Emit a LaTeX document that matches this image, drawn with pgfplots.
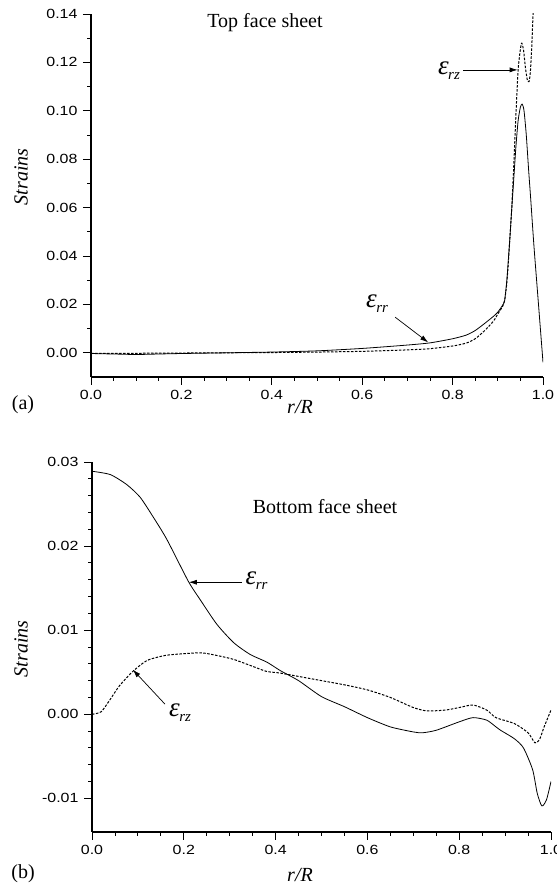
\documentclass[border=0pt]{standalone}
\usepackage{fontspec}
\setmainfont{Liberation Serif}
\newfontfamily\tickfamily[FakeStretch=1.2]{Liberation Sans}
\usepackage{pgfplots}
\pgfplotsset{compat=1.18}
\usetikzlibrary{arrows.meta}
\newcommand{\tickfont}{\tickfamily\fontsize{13.3bp}{15bp}\selectfont}
\newcommand{\txtfont}{\fontsize{20bp}{22bp}\selectfont}
\newcommand{\eps}[1]{{\fontsize{27bp}{27bp}\selectfont\itshape ε}\kern-0.5bp\raisebox{-5bp}{\fontsize{15bp}{15bp}\selectfont\itshape #1}}

\pgfplotstableread{
x y
0 -0.0003
0.05 -0.0005
0.1 -0.0007
0.15 -0.0005
0.2 -0.0003
0.3 0.0000
0.4 0.0003
0.5 0.0008
0.6 0.0018
0.7 0.0032
0.75 0.0041
0.8 0.0058
0.83 0.0073
0.85 0.0092
0.87 0.0120
0.89 0.0150
0.90 0.0168
0.91 0.0195
0.915 0.0215
0.92 0.030
0.925 0.043
0.93 0.057
0.935 0.071
0.94 0.085
0.945 0.096
0.95 0.1015
0.954 0.1028
0.958 0.100
0.963 0.090
0.968 0.076
0.973 0.063
0.98 0.044
0.99 0.020
1.0 -0.004
}\toprr

\pgfplotstableread{
x y
0 -0.0002
0.1 -0.0002
0.2 -0.0001
0.3 0.0000
0.4 0.0001
0.5 0.0003
0.6 0.0006
0.7 0.0012
0.75 0.0017
0.8 0.0028
0.83 0.0040
0.85 0.0058
0.87 0.0090
0.89 0.0130
0.90 0.0160
0.91 0.0190
0.915 0.0215
0.92 0.029
0.925 0.042
0.93 0.057
0.935 0.076
0.94 0.098
0.945 0.117
0.95 0.1255
0.953 0.128
0.957 0.125
0.961 0.118
0.965 0.113
0.969 0.112
0.972 0.116
0.975 0.126
0.978 0.140
0.981 0.152
}\toprz

\pgfplotstableread{
x y
0 0.0289
0.04 0.0285
0.076 0.0273
0.105 0.0258
0.134 0.0234
0.163 0.0208
0.21 0.0158
0.236 0.0136
0.272 0.0107
0.309 0.0085
0.345 0.0071
0.381 0.0062
0.41 0.0052
0.45 0.0040
0.5 0.0021
0.55 0.0009
0.6 -0.0004
0.65 -0.0015
0.7 -0.0021
0.72 -0.0022
0.75 -0.0019
0.8 -0.0009
0.83 -0.0004
0.86 -0.0007
0.88 -0.0015
0.89 -0.0019
0.92 -0.0029
0.94 -0.0040
0.96 -0.0066
0.97 -0.0094
0.98 -0.0109
0.99 -0.0102
1.0 -0.0080
}\botrr

\pgfplotstableread{
x y
0 0.0000
0.02 0.0003
0.04 0.0018
0.06 0.0034
0.089 0.0051
0.12 0.0064
0.16 0.0070
0.2 0.0072
0.24 0.0073
0.28 0.0069
0.31 0.0065
0.35 0.0057
0.38 0.0051
0.41 0.0049
0.45 0.0045
0.5 0.0040
0.55 0.0035
0.6 0.0029
0.65 0.0020
0.7 0.0008
0.73 0.0004
0.77 0.0005
0.8 0.0008
0.83 0.0011
0.86 0.0005
0.88 -0.0004
0.92 -0.0011
0.95 -0.0022
0.965 -0.0034
0.975 -0.0030
0.985 -0.0015
1.0 0.0005
}\botrz

\pgfplotsset{
  mystyle/.style={
    scale only axis,
    axis lines=left,
    axis line style={-, line width=1.1bp},
    tick style={line width=0.9bp, black},
    tick align=outside,
    major tick length=8bp,
    minor tick length=4bp,
    xmin=0, xmax=1,
    xtick={0,0.2,0.4,0.6,0.8,1},
    minor x tick num=3,
    scaled x ticks=false, scaled y ticks=false,
    ticklabel style={font=\tickfont},
    /pgf/number format/assume math mode=true,
    xticklabel style={yshift=-2bp, /pgf/number format/.cd, fixed, fixed zerofill, precision=1},
    yticklabel style={xshift=-2bp, /pgf/number format/.cd, fixed, fixed zerofill, precision=2},
    every axis plot/.append style={black, line join=round},
  },
  solidl/.style={line width=0.8bp, smooth, tension=0.4},
  dashl/.style={line width=1bp, dash pattern=on 2.5bp off 1.5bp, smooth, tension=0.4},
}

\begin{document}
\begin{tikzpicture}[x=1bp,y=1bp]
\useasboundingbox (0,0) rectangle (557,886);

% top panel
\begin{axis}[mystyle,
  at={(91bp,509bp)}, anchor=south west,
  width=452bp, height=363bp,
  ymin=-0.01, ymax=0.14,
  ytick={0,0.02,0.04,0.06,0.08,0.10,0.12,0.14},
  minor y tick num=1]
\addplot[solidl] table[x=x,y=y] {\toprr};
\addplot[dashl] table[x=x,y=y] {\toprz};
\draw[-{Latex[length=8bp,width=5bp]}, line width=0.7bp] (axis cs:0.823,0.1169) -- (axis cs:0.944,0.1169);
\node at (axis cs:0.792,0.1165) {\eps{rz}};
\draw[-{Latex[length=8bp,width=5bp]}, line width=0.7bp] (axis cs:0.673,0.0147) -- (axis cs:0.746,0.0043);
\node at (axis cs:0.633,0.0205) {\eps{rr}};
\end{axis}

% bottom panel
\begin{axis}[mystyle,
  at={(92bp,54bp)}, anchor=south west,
  width=459bp, height=370bp,
  ymin=-0.014, ymax=0.03,
  ytick={-0.01,0,0.01,0.02,0.03},
  minor y tick num=4]
\addplot[solidl] table[x=x,y=y] {\botrr};
\addplot[dashl] table[x=x,y=y] {\botrz};
\draw[-{Latex[length=8bp,width=5bp]}, line width=0.7bp] (axis cs:0.327,0.0157) -- (axis cs:0.211,0.0157);
\node[anchor=west] at (axis cs:0.327,0.0159) {\eps{rr}};
\draw[-{Latex[length=8bp,width=5bp]}, line width=0.7bp] (axis cs:0.159,0.0012) -- (axis cs:0.089,0.0053);
\node at (axis cs:0.192,0.0002) {\eps{rz}};
\end{axis}

% texts
\node[font=\txtfont] at (265,863) {Top face sheet};
\node[font=\txtfont] at (325,379) {Bottom face sheet};
\node[font=\txtfont\itshape, rotate=90] at (21,709) {Strains};
\node[font=\txtfont\itshape, rotate=90] at (21,237) {Strains};
\node[font=\txtfont\itshape] at (300,479) {r/R};
\node[font=\txtfont\itshape] at (300,11) {r/R};
\node[font=\txtfont] at (23,481) {(a)};
\node[font=\txtfont] at (23,12) {(b)};
\end{tikzpicture}
\end{document}
